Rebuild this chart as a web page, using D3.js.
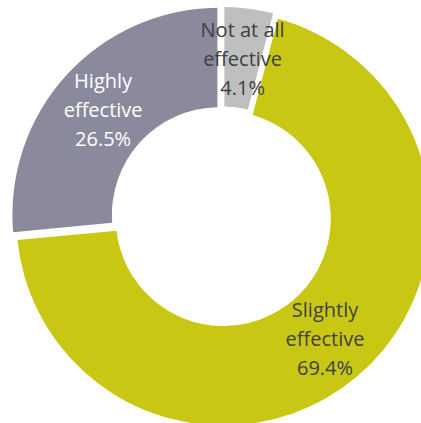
<!DOCTYPE html>
<html>
<head>
<meta charset="utf-8">
<script src="https://cdn.jsdelivr.net/npm/d3@7/dist/d3.min.js"></script>
<style>
  html, body { margin: 0; padding: 0; background: #ffffff; }
  svg { display: block; }
</style>
</head>
<body>
<svg id="chart" width="421" height="423"></svg>
<script>
// Survey responses: how effective was it?
const categories = ["Not at all effective", "Slightly effective", "Highly effective"];
const values = [4.1, 69.4, 26.5];
const labelLines = [["Not at all", "effective"], ["Slightly", "effective"], ["Highly", "effective"]];
const colors = ["#bfbfbf", "#c8c814", "#8b8a9d"];
const textColors = ["#404040", "#404040", "#ffffff"];
const explode = [3, 2, 3.5];

const width = 421, height = 423;
const cx = 222, cy = 217;
const outerR = 207, innerR = 107.5;
const gapPx = 4;          // white gap between neighbouring slices
const padRadius = 100;

const svg = d3.select("#chart");

const pie = d3.pie().sort(null).value(d => d.value)
  .startAngle(0).endAngle(2 * Math.PI);
const arc = d3.arc()
  .innerRadius(innerR).outerRadius(outerR)
  .padRadius(padRadius).padAngle(gapPx / padRadius);
const labelArc = d3.arc().innerRadius(innerR).outerRadius(outerR);

const data = categories.map((c, i) => ({
  name: c, value: values[i], lines: labelLines[i],
  color: colors[i], text: textColors[i], explode: explode[i]
}));

const arcs = pie(data);

// offset of an exploded slice along its bisector
function shift(d) {
  const mid = (d.startAngle + d.endAngle) / 2;
  return [Math.sin(mid) * d.data.explode, -Math.cos(mid) * d.data.explode];
}

const g = svg.append("g").attr("transform", `translate(${cx},${cy})`);

g.append("g").attr("class", "slices")
  .selectAll("path")
  .data(arcs)
  .join("path")
  .attr("transform", d => `translate(${shift(d)})`)
  .attr("d", arc)
  .attr("fill", d => d.data.color);

const fmt = d3.format(".1f");

g.append("g").attr("class", "labels")
  .selectAll("text")
  .data(arcs)
  .join("text")
  .attr("transform", d => {
    const [x, y] = labelArc.centroid(d);
    const [dx, dy] = shift(d);
    return `translate(${x + dx},${y + dy})`;
  })
  .attr("text-anchor", "middle")
  .attr("font-family", "'Open Sans', 'Noto Sans', sans-serif")
  .attr("font-size", 20)
  .attr("fill", d => d.data.text)
  .each(function (d) {
    const t = d3.select(this);
    const lines = d.data.lines.concat([fmt(d.data.value) + "%"]);
    lines.forEach((line, k) => {
      t.append("tspan")
        .attr("x", 0)
        .attr("y", 8 + (k - 1) * 29)
        .text(line);
    });
  });
</script>
</body>
</html>
